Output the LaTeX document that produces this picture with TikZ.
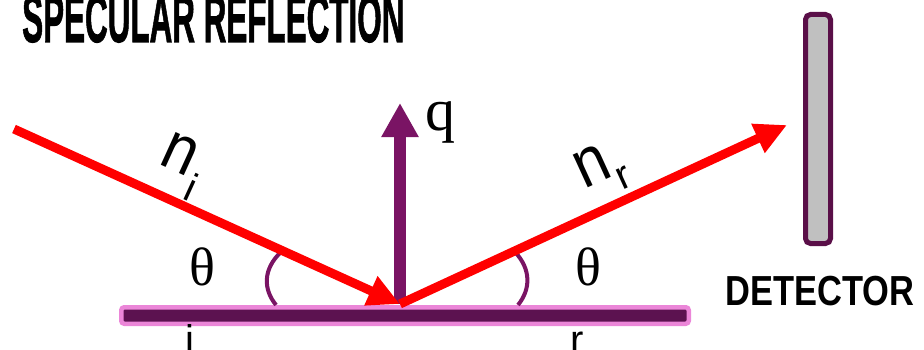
\documentclass[tikz,border=0pt]{standalone}
\usepackage{fontspec}
\setmainfont{Liberation Serif}
\setsansfont{Liberation Sans}
\newfontfamily\titlefont[FakeBold=1.5]{Liberation Sans Bold}
\usetikzlibrary{arrows.meta}
\definecolor{rayred}{HTML}{FF0000}
\definecolor{qpurple}{HTML}{7A1464}
\definecolor{barpink}{HTML}{EB86D8}
\definecolor{bardark}{HTML}{5C1250}
\definecolor{detframe}{HTML}{5A0F48}
\definecolor{detgray}{HTML}{C0C0C0}
\tikzset{
  ray/.style={line width=9pt, rayred, -{Triangle[length=32pt,width=30pt]}},
  normalarrow/.style={line width=12pt, qpurple, -{Triangle[length=34pt,width=35pt]}},
  anglearc/.style={line width=4pt, qpurple},
  mirror/.style={draw=barpink, fill=bardark, line width=4.5pt, rounded corners=3pt,
                 minimum width=567.5pt, minimum height=16.5pt, inner sep=0pt},
  detector/.style={draw=detframe, fill=detgray, line width=5pt, rounded corners=5pt,
                   minimum width=25pt, minimum height=229pt, inner sep=0pt},
  greek/.style={font=\fontsize{54}{54}\selectfont, inner sep=0pt},
  nlabel/.style={font=\sffamily\fontsize{68}{68}\selectfont, inner sep=0pt},
  sublabel/.style={font=\sffamily\fontsize{40}{40}\selectfont, inner sep=0pt},
}

\begin{document}
\begin{tikzpicture}[x=1pt, y=1pt]
    \useasboundingbox (0,0) rectangle (924,349);
    \clip (0,0) rectangle (924,349);
    % surface and detector
    \node[mirror] (bar) at (405,33.5) {};
    \node[detector] (det) at (818,220) {};
    \node[anchor=base, inner sep=0pt] (detlabel) at (820,44)
      {\scalebox{0.82}[1]{\sffamily\bfseries\fontsize{42}{42}\selectfont DETECTOR}};
    \node[anchor=base west, inner sep=0pt] (title) at (22,307)
      {\scalebox{0.462}[1]{\titlefont\fontsize{68}{68}\selectfont SPECULAR REFLECTION}};
    % points of the beams
    \coordinate (hit) at (400,45);
    \coordinate (src) at (14,220);
    \coordinate (out) at (787,224);
    \coordinate (qtip) at (400,246);
    % normal
    \draw[normalarrow] (hit) -- (qtip);
    \node[anchor=base west, inner sep=0pt, font=\fontsize{60}{60}\selectfont] (q) at (425,219) {q};
    % angles
    \draw[anglearc] (281,97) .. controls (263,80) and (263,60) .. (276,44);
    \draw[anglearc] (515,97) .. controls (531,80) and (531,60) .. (518,44);
    \node[greek] (thi) at (202,82) {θ};
    \node[greek] (thr) at (588,82) {θ};
    % beams
    \draw[ray] (src) -- (hit);
    \draw[ray] (hit) -- (out);
    \node[nlabel, rotate=-24.5] (ni) at (180,195) {\scalebox{0.88}[1]{n}};
    \node[sublabel, rotate=-24.5] (nisub) at (192,162) {i};
    \node[nlabel, rotate=24.6] (nr) at (592,183) {\scalebox{0.88}[1]{n}};
    \node[sublabel, rotate=24.6] (nrsub) at (624,171) {r};
    % cut letters under the surface
    \node[anchor=base, inner sep=0pt, font=\sffamily\fontsize{40}{40}\selectfont] (li) at (190,-4) {i};
    \node[anchor=base, inner sep=0pt, font=\sffamily\fontsize{40}{40}\selectfont] (lr) at (577,-4) {r};
\end{tikzpicture}
\end{document}
